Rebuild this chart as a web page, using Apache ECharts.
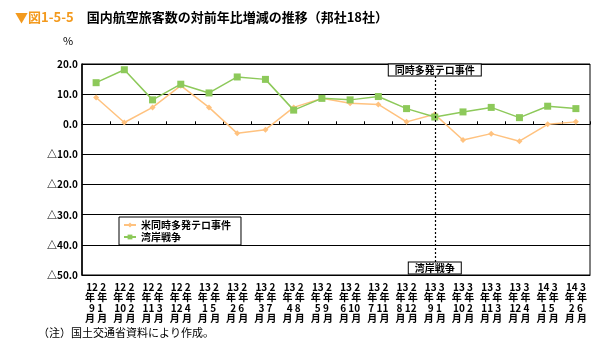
<!DOCTYPE html>
<html><head><meta charset="utf-8">
<script src="https://cdn.jsdelivr.net/npm/echarts@6/dist/echarts.min.js"></script>
<style>html,body{margin:0;padding:0;background:#fff}#c{width:601px;height:350px}</style>
</head><body><div id="c"></div>
<script>
const yearA = ['12','12','12','12','13','13','13','13','13','13','13','13','13','13','13','13','14','14'];
const monthA = ['9','10','11','12','1','2','3','4','5','6','7','8','9','10','11','12','1','2'];
const yearB = ['2','2','2','2','2','2','2','2','2','2','2','2','3','3','3','3','3','3'];
const monthB = ['1','2','3','4','5','6','7','8','9','10','11','12','1','2','3','4','5','6'];
const terrorSeries = [8.9, 0.6, 5.6, 12.8, 5.6, -3.0, -1.8, 5.6, 8.6, 7.0, 6.6, 0.8, 3.3, -5.2, -3.1, -5.6, 0.0, 0.8];
const gulfSeries = [13.8, 18.1, 8.1, 13.3, 10.4, 15.7, 14.9, 4.7, 8.6, 8.1, 9.2, 5.2, 2.4, 4.1, 5.6, 2.2, 6.0, 5.2];
const yTicks = [20, 10, 0, -10, -20, -30, -40, -50];
const eventIndex = 12;

const FONT = '"Noto Sans CJK JP", "Noto Sans", sans-serif';
const categories = yearA.map((y, i) => i);
const chart = echarts.init(document.getElementById('c'), null, {renderer: 'canvas'});
chart.setOption({
  animation: false,
  textStyle: {fontFamily: FONT},
  title: {
    left: 10, top: 6,
    text: '{a|▼図1-5-5}{b|　国内航空旅客数の対前年比増減の推移（邦社18社）}',
    textStyle: {
      rich: {
        a: {color: '#F39A1E', fontSize: 13, fontWeight: 'bold', fontFamily: FONT},
        b: {color: '#000', fontSize: 13, fontWeight: 'bold', fontFamily: FONT}
      }
    }
  },
  graphic: [
    {type: 'text', left: 63, top: 35, style: {text: '%', fontSize: 11, fontFamily: FONT, fill: '#000'}},
    {type: 'text', left: 38, top: 327, style: {text: '（注）国土交通省資料により作成。', fontSize: 11, fontFamily: FONT, fill: '#000'}}
  ],
  legend: {
    left: 119, top: 217, orient: 'vertical',
    backgroundColor: '#fff', borderColor: '#000', borderWidth: 1,
    padding: [3, 10, 3, 4], itemGap: 2, itemWidth: 12, itemHeight: 6,
    textStyle: {fontSize: 10, fontWeight: 'bold', fontFamily: FONT, color: '#000'},
    data: ['米同時多発テロ事件', '湾岸戦争']
  },
  grid: {left: 82, right: 11, top: 64, bottom: 75, show: true, borderColor: '#000', borderWidth: 1},
  xAxis: [{
    type: 'category', data: categories, boundaryGap: true,
    axisLine: {onZero: false, lineStyle: {color: '#000', width: 1}},
    axisTick: {show: false},
    axisLabel: {
      interval: 0, margin: 7, fontSize: 10, lineHeight: 10.3, fontWeight: 'bold', color: '#000', fontFamily: FONT,
      formatter: (v, i) => yearA[i] + ' ' + yearB[i] + '\n年 年\n' + monthA[i] + ' ' + monthB[i] + '\n月 月'
    }
  }, {
    type: 'category', data: categories, boundaryGap: true, position: 'bottom',
    axisLine: {onZero: true, lineStyle: {color: '#000', width: 1}},
    axisTick: {show: true, inside: true, length: 3, lineStyle: {color: '#000'}},
    axisLabel: {show: false}
  }],
  yAxis: {
    type: 'value', min: -50, max: 20, interval: 10,
    axisLine: {show: true, lineStyle: {color: '#000', width: 1.5}},
    axisTick: {show: false},
    splitLine: {lineStyle: {color: '#000', width: 1}},
    axisLabel: {
      fontSize: 10, fontWeight: 'bold', color: '#000', fontFamily: FONT, margin: 4,
      formatter: v => (v < 0 ? '△' + Math.abs(v).toFixed(1) : v.toFixed(1))
    }
  },
  series: [{
    name: '米同時多発テロ事件', type: 'line', data: terrorSeries,
    symbol: 'diamond', symbolSize: 6,
    lineStyle: {color: '#FFC27F', width: 1.5},
    itemStyle: {color: '#FFC27F'},
    markLine: {
      silent: true, symbol: 'none',
      lineStyle: {color: '#000', type: [2, 2], width: 1.2},
      label: {show: false},
      data: [[{coord: [eventIndex, 20]}, {coord: [eventIndex, -50]}]]
    },
    markPoint: {
      silent: true, symbol: 'rect', symbolSize: 0,
      label: {
        show: true, position: 'inside', fontSize: 10, fontWeight: 'bold', color: '#000', fontFamily: FONT,
        backgroundColor: '#fff', borderColor: '#000', borderWidth: 1, padding: [1, 6, 0, 6]
      },
      data: [
        {coord: [eventIndex, 20], label: {formatter: '同時多発テロ事件', offset: [0, 6]}},
        {coord: [eventIndex, -50], label: {formatter: '湾岸戦争', offset: [0, -7]}}
      ]
    }
  }, {
    name: '湾岸戦争', type: 'line', data: gulfSeries,
    symbol: 'rect', symbolSize: 7,
    lineStyle: {color: '#8DC95A', width: 1.5},
    itemStyle: {color: '#8DC95A'}
  }]
});
</script></body></html>
